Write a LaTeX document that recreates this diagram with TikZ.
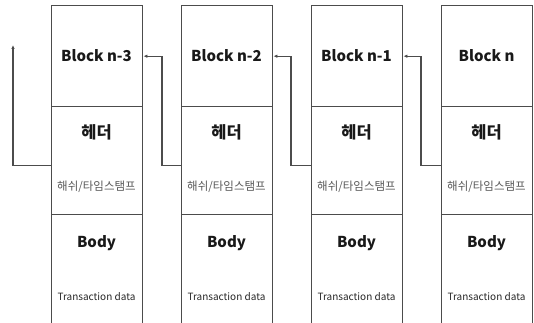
\documentclass[tikz,border=0pt]{standalone}
\usepackage{fontspec}
\setmainfont{Noto Sans CJK KR}
\usetikzlibrary{arrows.meta}
\definecolor{linec}{gray}{0.3}
\definecolor{subc}{gray}{0.35}
\begin{document}
\begin{tikzpicture}[x=1pt,y=-1pt,
  cell/.style={draw=linec,line width=1.4pt,minimum width=91pt,inner sep=0pt,anchor=north west},
  title/.style={font=\fontsize{15}{15}\selectfont\bfseries,text=black!90},
  kor/.style={font=\fontsize{16.5}{16.5}\selectfont\bfseries,text=black!90},
  sub/.style={font=\fontsize{11.5}{11.5}\selectfont,text=subc},
  small/.style={font=\fontsize{10}{10}\selectfont,text=black!85},
  link/.style={draw=linec,line width=1.3pt,-{Latex[length=4pt,width=3.5pt]}}]
\useasboundingbox (0,0) rectangle (534,323);
\foreach \i/\x/\lab in {3/51/Block n-3,2/181/Block n-2,1/311/Block n-1,0/441/Block n}{
  \node[cell,minimum height=101pt] (top\i) at (\x,5) {};
  \node[cell,minimum height=108pt] (head\i) at (\x,106) {};
  \node[cell,minimum height=120pt] (body\i) at (\x,214) {};
  \node[title] (t\i) at (\x+45.5,56) {\lab};
  \node[kor] (h\i) at (\x+45.5,132) {헤더};
  \node[sub] (s\i) at (\x+45.5,187) {해쉬/타임스탬프};
  \node[title] (b\i) at (\x+45.5,243) {Body};
  \node[small] (d\i) at (\x+45.5,297) {Transaction data};
}
\coordinate (exit) at (13,45);
\draw[link] ([yshift=-5pt]head3.west) -| (exit);
\draw[link] ([yshift=-5pt]head2.west) -- ++(-19,0) |- (top3.east);
\draw[link] ([yshift=-5pt]head1.west) -- ++(-20,0) |- (top2.east);
\draw[link] ([yshift=-5pt]head0.west) -- ++(-20,0) |- (top1.east);
\end{tikzpicture}
\end{document}
